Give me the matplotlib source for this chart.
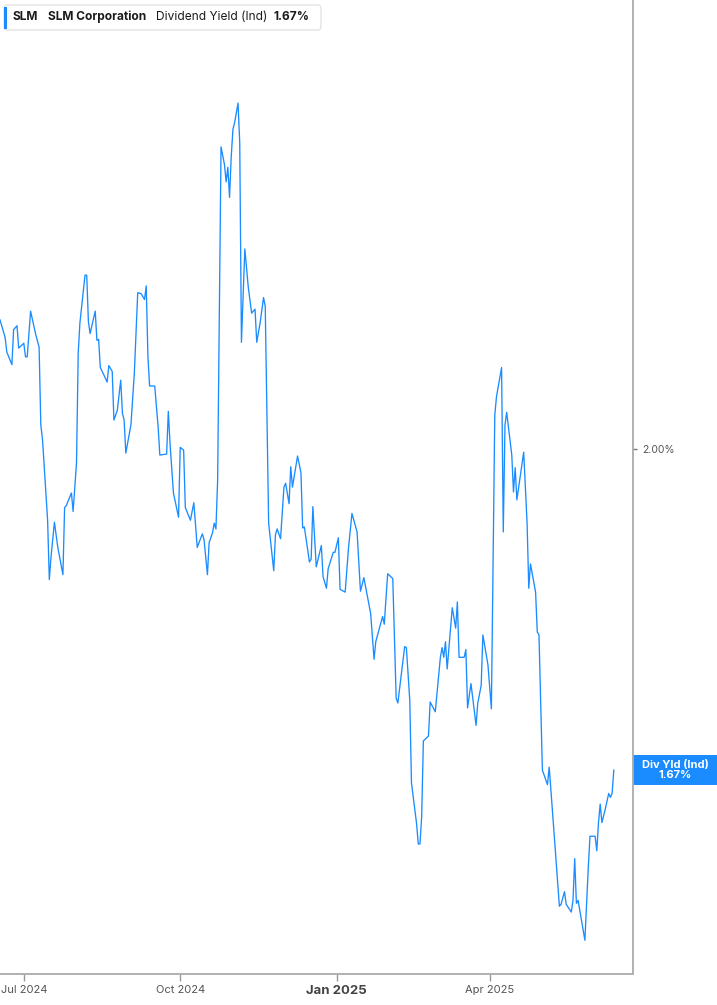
import datetime as dt
import matplotlib
matplotlib.use("Agg")
import matplotlib.pyplot as plt
from matplotlib.patches import FancyBboxPatch, Rectangle

plt.rcParams['font.family'] = ['Inter', 'DejaVu Sans']

# SLM Corporation - dividend yield (indicated), %
dates = [
    "2024-06-17", "2024-06-20", "2024-06-21", "2024-06-24", "2024-06-25", "2024-06-27", "2024-06-28",
    "2024-07-01", "2024-07-02", "2024-07-03", "2024-07-05", "2024-07-08", "2024-07-10", "2024-07-11",
    "2024-07-12", "2024-07-15", "2024-07-16", "2024-07-17", "2024-07-19", "2024-07-21", "2024-07-24",
    "2024-07-25", "2024-07-26", "2024-07-29", "2024-07-30",
    "2024-08-01", "2024-08-02", "2024-08-03", "2024-08-06", "2024-08-07", "2024-08-08", "2024-08-09",
    "2024-08-12", "2024-08-13", "2024-08-14", "2024-08-15", "2024-08-18", "2024-08-19", "2024-08-20",
    "2024-08-22", "2024-08-23", "2024-08-25", "2024-08-27", "2024-08-28", "2024-08-29", "2024-08-30",
    "2024-09-02", "2024-09-04", "2024-09-06", "2024-09-08", "2024-09-10", "2024-09-11", "2024-09-12",
    "2024-09-13", "2024-09-16", "2024-09-18", "2024-09-19", "2024-09-23", "2024-09-24", "2024-09-25",
    "2024-09-27", "2024-09-30",
    "2024-10-01", "2024-10-03", "2024-10-04", "2024-10-07", "2024-10-09", "2024-10-11", "2024-10-14",
    "2024-10-15", "2024-10-17", "2024-10-18", "2024-10-20", "2024-10-21", "2024-10-22", "2024-10-23",
    "2024-10-25", "2024-10-27", "2024-10-28", "2024-10-29", "2024-10-30", "2024-10-31",
    "2024-11-01", "2024-11-02", "2024-11-04", "2024-11-05", "2024-11-06", "2024-11-08", "2024-11-10",
    "2024-11-12", "2024-11-14", "2024-11-15", "2024-11-17", "2024-11-19", "2024-11-20", "2024-11-22",
    "2024-11-25", "2024-11-26", "2024-11-27", "2024-11-29",
    "2024-12-01", "2024-12-02", "2024-12-04", "2024-12-05", "2024-12-06", "2024-12-09", "2024-12-11",
    "2024-12-12", "2024-12-13", "2024-12-16", "2024-12-17", "2024-12-18", "2024-12-20", "2024-12-23",
    "2024-12-24", "2024-12-26", "2024-12-27", "2024-12-30", "2024-12-31",
    "2025-01-02", "2025-01-03", "2025-01-06", "2025-01-08", "2025-01-10", "2025-01-13", "2025-01-15",
    "2025-01-17", "2025-01-21", "2025-01-23", "2025-01-24", "2025-01-28", "2025-01-29", "2025-01-31",
    "2025-02-03", "2025-02-05", "2025-02-06", "2025-02-10", "2025-02-11", "2025-02-13", "2025-02-14",
    "2025-02-17", "2025-02-18", "2025-02-19", "2025-02-20", "2025-02-21", "2025-02-24", "2025-02-25",
    "2025-02-28",
    "2025-03-03", "2025-03-04", "2025-03-05", "2025-03-06", "2025-03-07", "2025-03-10", "2025-03-12",
    "2025-03-13", "2025-03-14", "2025-03-17", "2025-03-18", "2025-03-19", "2025-03-21", "2025-03-24",
    "2025-03-25", "2025-03-27", "2025-03-28", "2025-03-31",
    "2025-04-02", "2025-04-04", "2025-04-05", "2025-04-08", "2025-04-09", "2025-04-10", "2025-04-11",
    "2025-04-14", "2025-04-15", "2025-04-16", "2025-04-17", "2025-04-21", "2025-04-23", "2025-04-24",
    "2025-04-25", "2025-04-28", "2025-04-29", "2025-04-30",
    "2025-05-02", "2025-05-05", "2025-05-06", "2025-05-08", "2025-05-12", "2025-05-13", "2025-05-15",
    "2025-05-16", "2025-05-19", "2025-05-20", "2025-05-21", "2025-05-22", "2025-05-23", "2025-05-27",
    "2025-05-29", "2025-05-30",
    "2025-06-02", "2025-06-03", "2025-06-04", "2025-06-05", "2025-06-06", "2025-06-08", "2025-06-10",
    "2025-06-11", "2025-06-12", "2025-06-13",
]
div_yield = [
    2.133, 2.115, 2.100, 2.087, 2.123, 2.127, 2.104,
    2.109, 2.095, 2.095, 2.142, 2.118, 2.105, 2.025,
    2.010, 1.927, 1.866, 1.889, 1.925, 1.899, 1.871,
    1.940, 1.942, 1.955, 1.936,
    1.986, 2.099, 2.130, 2.179, 2.179, 2.131, 2.119,
    2.142, 2.112, 2.113, 2.084, 2.073, 2.069, 2.086,
    2.080, 2.030, 2.040, 2.071, 2.037, 2.030, 1.996,
    2.025, 2.078, 2.161, 2.160, 2.154, 2.168, 2.095,
    2.065, 2.065, 2.023, 1.994, 1.995, 2.039, 2.006,
    1.955, 1.930,
    2.002, 1.999, 1.940, 1.927, 1.945, 1.899, 1.913,
    1.907, 1.871, 1.904, 1.914, 1.924, 1.918, 1.968,
    2.311, 2.293, 2.275, 2.290, 2.259, 2.301,
    2.329, 2.336, 2.356, 2.315, 2.110, 2.206, 2.167,
    2.140, 2.144, 2.110, 2.130, 2.156, 2.147, 1.924,
    1.875, 1.912, 1.918, 1.908,
    1.961, 1.965, 1.944, 1.982, 1.961, 1.993, 1.976,
    1.919, 1.920, 1.884, 1.887, 1.941, 1.879, 1.901,
    1.869, 1.857, 1.877, 1.894, 1.894,
    1.909, 1.856, 1.853, 1.899, 1.934, 1.915, 1.854,
    1.868, 1.831, 1.784, 1.802, 1.828, 1.820, 1.872,
    1.867, 1.744, 1.739, 1.797, 1.796, 1.742, 1.657,
    1.615, 1.594, 1.594, 1.622, 1.700, 1.705, 1.740,
    1.730,
    1.786, 1.796, 1.786, 1.802, 1.774, 1.837, 1.816,
    1.843, 1.786, 1.786, 1.794, 1.734, 1.759, 1.716,
    1.739, 1.757, 1.809, 1.778,
    1.733, 2.035, 2.054, 2.084, 1.915, 2.025, 2.038,
    1.994, 1.956, 1.981, 1.948, 1.997, 1.924, 1.857,
    1.882, 1.853, 1.812, 1.809,
    1.670, 1.655, 1.673, 1.626, 1.530, 1.532, 1.545,
    1.532, 1.524, 1.536, 1.579, 1.533, 1.536, 1.495,
    1.570, 1.602,
    1.602, 1.587, 1.616, 1.635, 1.616, 1.630, 1.646,
    1.642, 1.646, 1.670,
]
tick_dates = ["2024-07-01", "2024-10-01", "2025-01-01", "2025-04-01"]
tick_labels = ["Jul 2024", "Oct 2024", "Jan 2025", "Apr 2025"]

BLUE = "#1a8cff"
W, H = 717, 1005

xs = [dt.datetime.strptime(d, "%Y-%m-%d") for d in dates]

fig = plt.figure(figsize=(W / 100, H / 100), dpi=100)
ax = fig.add_axes([0, 30.7 / H, 632.5 / W, 974.3 / H])

ax.plot(xs, div_yield, color=BLUE, lw=0.95)

start = dt.datetime(2024, 6, 17)
ax.set_xlim(start, start + dt.timedelta(days=372))
ax.set_ylim(1.46, 2.462)

for s in ["left", "top"]:
    ax.spines[s].set_visible(False)
for s in ["bottom", "right"]:
    ax.spines[s].set_color("#aaaaaa")
    ax.spines[s].set_linewidth(1.3)

ax.yaxis.tick_right()
ax.set_yticks([2.0])
ax.set_yticklabels(["2.00%"])
ax.tick_params(axis="y", length=3, width=1, color="#777777", labelsize=7.5,
               labelcolor="#555555", pad=4)

ax.set_xticks([dt.datetime.strptime(d, "%Y-%m-%d") for d in tick_dates])
ax.set_xticklabels(tick_labels)
ax.tick_params(axis="x", length=5, width=1, color="#999999", labelsize=8,
               labelcolor="#555555", pad=3)
for lbl in ax.get_xticklabels():
    if lbl.get_text().startswith("Jan"):
        lbl.set_fontweight("bold")
        lbl.set_fontsize(9.5)
        lbl.set_color("#444444")

# last value tag on the right axis
last = div_yield[-1]
tag_h = 15 / 971.8
ax.add_patch(Rectangle((1.0, last - tag_h), 85 / 632.5, 2 * tag_h, transform=ax.get_yaxis_transform(),
                       fc=BLUE, ec="none", clip_on=False))
ax.text(1.0 + 42.5 / 632.5, last, "Div Yld (Ind)\n%.2f%%" % last, transform=ax.get_yaxis_transform(),
        ha="center", va="center", color="white", fontsize=8, fontweight="bold", linespacing=1.0)

# header box
def fx(x):
    return x / W

def fy(y):
    return 1 - y / H

fig.patches.append(FancyBboxPatch((fx(4), fy(30)), fx(317), 25 / H,
                                  boxstyle="round,pad=0,rounding_size=0.004",
                                  fc="white", ec="#e3e3e3", lw=1, transform=fig.transFigure))
fig.patches.append(Rectangle((fx(4), fy(29)), fx(3), 22 / H, fc=BLUE, ec="none",
                             transform=fig.transFigure))
hy = fy(17)
fig.text(fx(13), hy, "SLM", fontsize=8.6, fontweight="bold", color="#1b1b1b", va="center")
fig.text(fx(48), hy, "SLM Corporation", fontsize=8.6, fontweight="bold", color="#1b1b1b", va="center")
fig.text(fx(155.5), hy, "Dividend Yield (Ind)", fontsize=8.6, color="#1b1b1b", va="center")
fig.text(fx(273), hy, "%.2f%%" % last, fontsize=8.6, fontweight="bold", color="#1b1b1b", va="center")

fig.savefig("out.png", dpi=100)
